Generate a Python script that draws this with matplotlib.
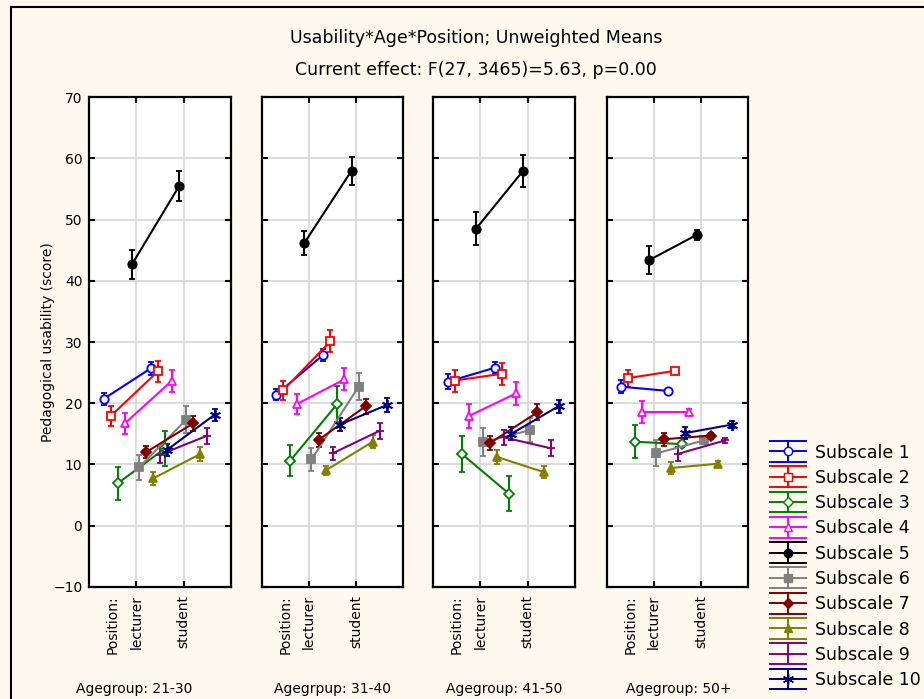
import matplotlib
matplotlib.use('Agg')
import matplotlib.pyplot as plt
import numpy as np
from matplotlib.lines import Line2D
from matplotlib.legend_handler import HandlerBase
from matplotlib.patches import Rectangle

groups = ['Agegroup: 21-30', 'Agegrpup: 31-40', 'Agegroup: 41-50', 'Agegroup: 50+']
positions = ['lecturer', 'student']
subscales = ['Subscale %d' % i for i in range(1, 11)]

# means per age group, subscale 1..10
lecturer_means = [
    [20.7, 17.9, 6.9, 16.7, 42.7, 9.5, 12.0, 7.7, 11.6, 12.4],
    [21.4, 22.1, 10.6, 19.9, 46.2, 10.8, 14.0, 9.0, 11.8, 16.5],
    [23.5, 23.7, 11.7, 17.9, 48.5, 13.6, 13.5, 11.2, 14.4, 15.0],
    [22.7, 24.1, 13.7, 18.6, 43.4, 11.8, 14.1, 9.4, 11.7, 15.1],
]
student_means = [
    [25.7, 25.2, 12.6, 23.7, 55.5, 17.3, 16.7, 11.7, 14.7, 18.1],
    [27.9, 30.1, 19.9, 23.9, 58.0, 22.7, 19.5, 13.7, 15.5, 19.7],
    [25.8, 24.8, 5.2, 21.6, 58.0, 15.6, 18.5, 8.7, 12.6, 19.5],
    [22.0, 25.3, 13.3, 18.6, 47.5, 13.9, 14.7, 10.1, 13.9, 16.5],
]
# half-length of the error bars
lecturer_err = [
    [1.0, 1.6, 2.7, 1.7, 2.4, 2.1, 1.0, 1.0, 1.3, 1.0],
    [0.9, 1.5, 2.5, 1.6, 2.0, 1.9, 1.1, 0.8, 1.1, 1.0],
    [1.2, 1.8, 3.0, 1.9, 2.7, 2.3, 1.1, 1.1, 1.2, 1.1],
    [1.1, 1.4, 2.7, 1.8, 2.3, 2.1, 1.1, 1.0, 1.2, 1.0],
]
student_err = [
    [1.1, 1.7, 2.9, 1.8, 2.4, 2.2, 1.2, 1.1, 1.3, 1.0],
    [1.0, 1.8, 2.9, 1.8, 2.3, 2.2, 1.2, 1.1, 1.3, 1.2],
    [1.0, 1.8, 2.9, 1.9, 2.6, 2.0, 1.3, 1.0, 1.3, 1.1],
    [0.3, 0.45, 0.5, 0.45, 0.8, 0.6, 0.5, 0.4, 0.4, 0.6],
]

colors = ['#0000ff', '#ff0000', '#008000', '#ff00ff', '#000000',
          '#808080', '#800000', '#808000', '#800080', '#000080']
markers = ['o', 's', 'D', '^', 'o', 's', 'D', '^', '_', (6, 2, 0)]
facecols = ['white', 'white', 'white', 'white', None, None, None, None, None, None]
msizes = [6, 6, 5.5, 6, 6, 6, 5.5, 6, 6, 8]


class ErrbarHandler(HandlerBase):
    # legend glyph: line with error bar, caps across the whole width
    def create_artists(self, legend, orig_handle, xdescent, ydescent,
                       width, height, fontsize, trans):
        c = orig_handle.get_color()
        x0, x1 = -xdescent, -xdescent + width
        xm = (x0 + x1) / 2
        cy = height / 2 - ydescent
        h = 0.6 * fontsize
        arts = [Line2D([x0, x1], [yy, yy], color=c, lw=1.4) for yy in (cy - h, cy, cy + h)]
        arts.append(Line2D([xm, xm], [cy - h, cy + h], color=c, lw=1.4))
        arts.append(Line2D([xm], [cy], ls='', marker=orig_handle.get_marker(), color=c,
                           mfc=orig_handle.get_markerfacecolor(),
                           ms=orig_handle.get_markersize()))
        for a in arts:
            a.set_transform(trans)
        return arts


W, H = 924, 699
fig = plt.figure(figsize=(W / 100, H / 100), dpi=100, facecolor='#fdf9ee')

lefts = [89.3, 261.7, 433.3, 606.7]
label_frac = [0.316, 0.5, 0.5, 0.51]
top, bottom, pw = 97.3, 586.7, 141.5

for k, left in enumerate(lefts):
    ax = fig.add_axes([left / W, 1 - bottom / H, pw / W, (bottom - top) / H])
    ax.set_facecolor('white')
    for i in range(10):
        x = np.arange(2) + (i - 4.5) * 0.15 - 0.02
        y = [lecturer_means[k][i], student_means[k][i]]
        e = [lecturer_err[k][i], student_err[k][i]]
        ax.errorbar(x, y, yerr=e, color=colors[i], marker=markers[i],
                    mfc=facecols[i] if facecols[i] else colors[i], ms=msizes[i],
                    mew=1.3, lw=1.5, elinewidth=1.5, capsize=2.5, capthick=1.5)
    ax.set_xlim(-1, 2)
    ax.set_ylim(-10, 70)
    ax.set_yticks(range(-10, 71, 10))
    ax.set_xticks([0, 1], positions, rotation=90)
    ax.set_xticks([-0.5], ['Position:'], minor=True, rotation=90)
    ax.grid(True, color='#d9d9d9', lw=1.3)
    ax.set_axisbelow(True)
    ax.tick_params(direction='in', top=True, right=True, length=4, width=1.5, labelsize=10)
    ax.tick_params(axis='x', which='both', pad=6)
    ax.tick_params(axis='x', which='minor', length=0, top=False)
    ax.tick_params(axis='y', pad=5)
    for s in ax.spines.values():
        s.set_linewidth(1.6)
    if k == 0:
        ax.set_ylabel('Pedagogical usability (score)', fontsize=10)
        ax.yaxis.set_label_coords(-0.243, 0.5)
    else:
        ax.tick_params(axis='y', labelleft=False)
    fig.text((left + label_frac[k] * pw) / W, 1 - 693.3 / H, groups[k],
             ha='center', va='baseline', fontsize=10)

fig.text(476 / W, 1 - 43 / H, 'Usability*Age*Position; Unweighted Means',
         ha='center', va='baseline', fontsize=12.5)
fig.text(476 / W, 1 - 75 / H, 'Current effect: F(27, 3465)=5.63, p=0.00',
         ha='center', va='baseline', fontsize=12.5)

handles = [Line2D([], [], color=colors[i], marker=markers[i],
                  mfc=facecols[i] if facecols[i] else colors[i], ms=msizes[i])
           for i in range(10)]
fig.legend(handles, subscales, handler_map={Line2D: ErrbarHandler()},
           loc='upper left', bbox_to_anchor=(770 / W, 1 - 443.5 / H),
           frameon=False, fontsize=12.5, handlelength=2.1, handletextpad=0.5,
           labelspacing=0.42, borderpad=0, borderaxespad=0)

fig.add_artist(Rectangle((10.7 / W, -0.1), 2, 1 - 7.3 / H + 0.1,
                         transform=fig.transFigure, fill=False, ec='black', lw=1.5))

plt.savefig('out.png', dpi=100, facecolor=fig.get_facecolor())
